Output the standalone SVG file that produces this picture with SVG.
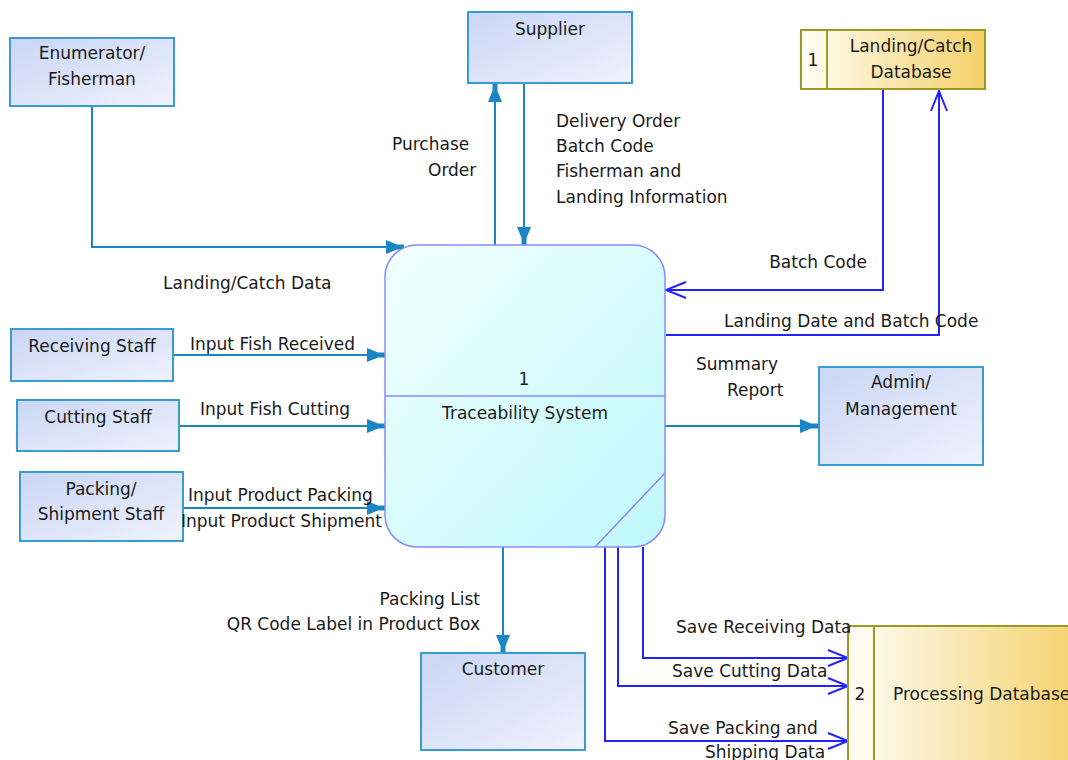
<svg xmlns="http://www.w3.org/2000/svg" width="1068" height="760" viewBox="0 0 1068 760">
<defs>
<linearGradient id="gBox" x1="0" y1="0" x2="1" y2="1"><stop offset="0" stop-color="#c9d6f5"/><stop offset="1" stop-color="#f0f2fd"/></linearGradient>
<linearGradient id="gProc" x1="0" y1="0" x2="1" y2="1"><stop offset="0" stop-color="#f2ffff"/><stop offset="1" stop-color="#bff8fb"/></linearGradient>
<linearGradient id="gStore" x1="0" y1="0" x2="1" y2="0"><stop offset="0" stop-color="#fffdf5"/><stop offset="1" stop-color="#f5d068"/></linearGradient>
<linearGradient id="gStore2" x1="0" y1="0" x2="1" y2="0"><stop offset="0" stop-color="#fffdf5"/><stop offset="0.6" stop-color="#f8e2a0"/><stop offset="1" stop-color="#f5d068"/></linearGradient>
<marker id="aT" markerUnits="userSpaceOnUse" markerWidth="22" markerHeight="18" viewBox="-19 -9 20 18" refX="0" refY="0" orient="auto">
<path d="M-18,-7 L-7,-2.5 L0,-2.5 L0,2.5 L-7,2.5 L-18,7 Z" fill="#1a86c4"/>
</marker>
<marker id="aB" markerUnits="userSpaceOnUse" markerWidth="24" markerHeight="20" viewBox="-22 -10 24 20" refX="0" refY="0" orient="auto">
<path d="M-20,-8 L0,0 L-20,8" fill="none" stroke="#2323ff" stroke-width="2"/>
</marker>
</defs>
<style>
text{font-family:"DejaVu Sans","Liberation Sans",sans-serif;font-size:17px;fill:#1a1a1a}
.m{text-anchor:middle}
.e{text-anchor:end}
.box{fill:url(#gBox);stroke:#3a9bd0;stroke-width:2}
.t{fill:none;stroke:#1a86c4;stroke-width:2;marker-end:url(#aT)}
.b{fill:none;stroke:#2323ff;stroke-width:2;marker-end:url(#aB)}
.store{stroke:#9a9a22;stroke-width:2}
</style>
<rect width="1068" height="760" fill="#fff"/>

<g id="connectors">
<path class="t" d="M92,107 V247 H404"/>
<path class="t" d="M495,245 V84"/>
<path class="t" d="M524,84 V245"/>
<path class="b" d="M883,90 V290 H666"/>
<path class="b" d="M666,335 H939 V91"/>
<path class="t" d="M173,355 H385"/>
<path class="t" d="M179,426 H385"/>
<path class="t" d="M183,508 H385"/>
<path class="t" d="M665,426 H818"/>
<path class="t" d="M503,547 V653"/>
<path class="b" d="M643,547 V658 H848"/>
<path class="b" d="M618,547 V686 H848"/>
<path class="b" d="M605,547 V741 H848"/>
</g>

<g id="process">
<rect x="385" y="245" width="280" height="302" rx="32" ry="32" fill="url(#gProc)" stroke="#8a8aff" stroke-width="1.5"/>
<line x1="385" y1="396" x2="665" y2="396" stroke="#8a8aff" stroke-width="1.5"/>
<line x1="595" y1="547" x2="665" y2="473" stroke="#8a8aff" stroke-width="1.5"/>
<text class="m" x="524" y="385">1</text>
<text class="m" x="525" y="419">Traceability System</text>
</g>

<g id="enumerator">
<rect class="box" x="10" y="38" width="164" height="68"/>
<text class="m" x="92" y="59">Enumerator/</text>
<text class="m" x="92" y="85">Fisherman</text>
</g>

<g id="supplier">
<rect class="box" x="468" y="12" width="164" height="71"/>
<text class="m" x="550" y="35">Supplier</text>
</g>

<g id="landing-db">
<rect class="store" x="801" y="30" width="184" height="59" fill="url(#gStore)"/>
<line class="store" x1="827" y1="30" x2="827" y2="89"/>
<text class="m" x="813" y="66">1</text>
<text class="m" x="911" y="52">Landing/Catch</text>
<text class="m" x="911" y="78">Database</text>
</g>

<g id="receiving">
<rect class="box" x="11" y="329" width="162" height="52"/>
<text class="m" x="92" y="352">Receiving Staff</text>
</g>

<g id="cutting">
<rect class="box" x="17" y="400" width="162" height="51"/>
<text class="m" x="98" y="423">Cutting Staff</text>
</g>

<g id="packing">
<rect class="box" x="20" y="472" width="163" height="69"/>
<text class="m" x="101" y="495">Packing/</text>
<text class="m" x="101" y="520">Shipment Staff</text>
</g>

<g id="admin">
<rect class="box" x="819" y="367" width="164" height="98"/>
<text class="m" x="901" y="388">Admin/</text>
<text class="m" x="901" y="415">Management</text>
</g>

<g id="customer">
<rect class="box" x="421" y="653" width="164" height="97"/>
<text class="m" x="503" y="675">Customer</text>
</g>

<g id="processing-db">
<rect class="store" x="848" y="626" width="240" height="150" fill="url(#gStore2)"/>
<line class="store" x1="874" y1="626" x2="874" y2="760"/>
<text class="m" x="860" y="700">2</text>
<text x="893" y="700">Processing Database</text>
</g>

<g id="labels">
<text x="163" y="289">Landing/Catch Data</text>
<text x="392" y="150">Purchase</text>
<text x="428" y="176">Order</text>
<text x="556" y="127">Delivery Order</text>
<text x="556" y="152">Batch Code</text>
<text x="556" y="177">Fisherman and</text>
<text x="556" y="203">Landing Information</text>
<text class="e" x="867" y="268">Batch Code</text>
<text x="724" y="327">Landing Date and Batch Code</text>
<text x="696" y="370">Summary</text>
<text x="727" y="396">Report</text>
<text x="190" y="350">Input Fish Received</text>
<text x="200" y="415">Input Fish Cutting</text>
<text x="188" y="501">Input Product Packing</text>
<text x="181" y="527">Input Product Shipment</text>
<text class="e" x="480" y="605">Packing List</text>
<text class="e" x="480" y="630">QR Code Label in Product Box</text>
<text x="676" y="633">Save Receiving Data</text>
<text x="672" y="677">Save Cutting Data</text>
<text x="668" y="734">Save Packing and</text>
<text x="705" y="758">Shipping Data</text>
</g>
</svg>
